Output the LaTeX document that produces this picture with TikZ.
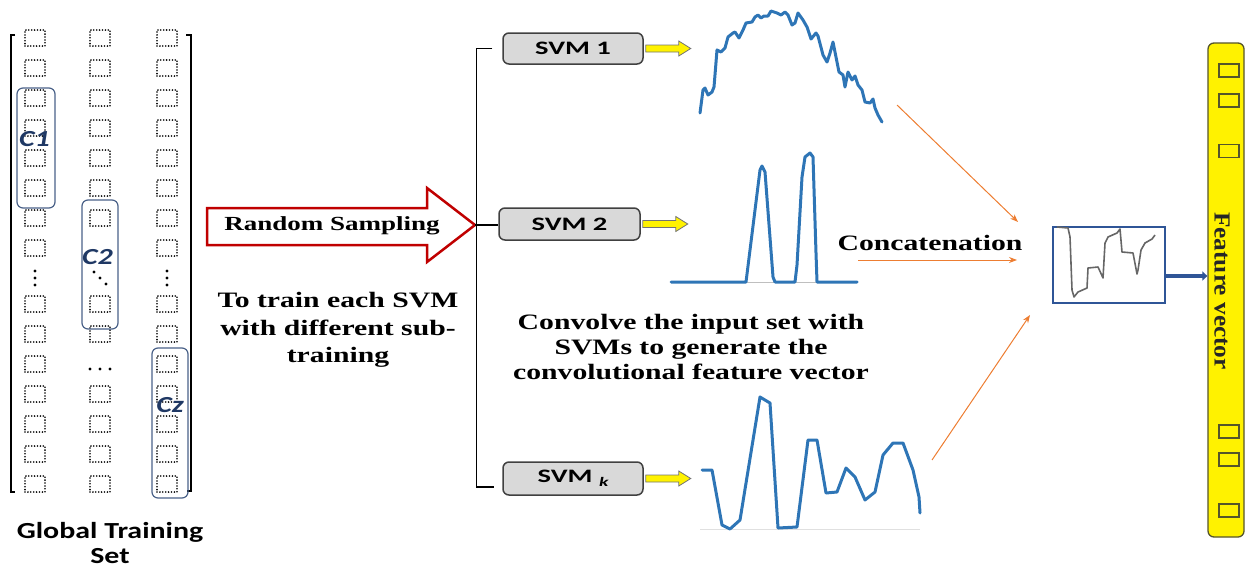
\documentclass[tikz,border=0pt]{standalone}
\usepackage{fontspec}
\setmainfont{Liberation Serif}[FakeStretch=1.35]
\newfontfamily\fvfont{Liberation Serif}[FakeStretch=1.1]
\newfontfamily\svmfont{Carlito}[FakeStretch=1.5]
\newfontfamily\gtsfont{Carlito}[FakeStretch=1.3]
\usetikzlibrary{arrows.meta,calc}
\definecolor{plotblue}{HTML}{2E75B6}
\definecolor{conc}{HTML}{ED7D31}
\definecolor{rsred}{HTML}{C00000}
\definecolor{clab}{HTML}{1F3864}
\definecolor{cbox}{HTML}{4A6188}
\definecolor{fbblue}{HTML}{2F5597}
\definecolor{barline}{HTML}{55552A}
\definecolor{svmfill}{HTML}{D9D9D9}
\begin{document}
\begin{tikzpicture}[x=1pt,y=-1pt,
  dsq/.style={draw, line width=1.8pt, line cap=round, dash pattern=on 0pt off 2.9pt, minimum width=20pt, minimum height=16pt, inner sep=0pt},
  cgroup/.style={draw=cbox, line width=1.2pt, rounded corners=6pt},
  clabel/.style={text=clab, font=\gtsfont\fontsize{23}{23}\selectfont\bfseries\itshape, inner sep=0pt},
  bracket/.style={line width=2.5pt, line join=miter},
  svmbox/.style={draw=black!75, fill=svmfill, line width=1.5pt, rounded corners=6pt, minimum width=140pt, minimum height=31pt, inner sep=0pt, font=\svmfont\fontsize{19}{19}\selectfont\bfseries},
  serif/.style={font=\fontsize{22}{25}\selectfont\bfseries, align=center, inner sep=0pt},
  plotline/.style={draw=plotblue, line width=3pt, line join=round, line cap=round},
  concarrow/.style={draw=conc, line width=1pt, -{Stealth[length=8pt,width=6pt]}},
  fsq/.style={draw=barline, line width=1.2pt, minimum width=20pt, minimum height=13pt, inner sep=0pt},
  yarr/.pic={\draw[fill=yellow, draw=black!55, line width=0.8pt, line join=miter] (0,-3.5) -- (33,-3.5) -- (33,-7.5) -- (45,0) -- (33,7.5) -- (33,3.5) -- (0,3.5) -- cycle;}
]
\useasboundingbox (0,0) rectangle (1246,568);

% ---------- global training set ----------
\draw[bracket] (15,35) -- (11,35) -- (11,492) -- (15,492);
\draw[bracket] (186,35) -- (191,35) -- (191,491) -- (187,491);

\foreach \r/\y in {1/38,2/68,3/98,4/128,5/158,6/188,7/218,8/248,9/304,10/334,11/364,12/394,13/424,14/454,15/484}{
  \node[dsq] (sa\r) at (35,\y) {};
  \node[dsq] (sc\r) at (167,\y) {};
}
\foreach \r/\y in {1/38,2/68,3/98,4/128,5/158,6/188,7/218,9/304,10/334,12/394,13/424,14/454,15/484}{
  \node[dsq] (sb\r) at (100,\y) {};
}
% dots
\foreach \y in {271,278,285}{
  \fill (35,\y) circle (1.6pt);
  \fill (167,\y) circle (1.6pt);
}
\fill (94,272) circle (1.6pt) (100,278) circle (1.6pt) (106,284) circle (1.6pt);
\fill (90,369) circle (1.6pt) (100,369) circle (1.6pt) (110,369) circle (1.6pt);

\draw[cgroup] (17,88) rectangle (55,208);
\draw[cgroup] (82,200) rectangle (118,329);
\draw[cgroup] (152,348) rectangle (188,498);
\node[clabel] (c1) at (34.5,139) {C1};
\node[clabel] (c2) at (97.5,257) {C2};
\node[clabel] (cz) at (170,405) {Cz};

\node[font=\gtsfont\fontsize{23}{25}\selectfont\bfseries, align=center, inner sep=0pt] (gts) at (110,543) {Global Training\\Set};

% ---------- random sampling ----------
\draw[rsred, line width=2.5pt, fill=white, line join=miter] (207,208) -- (427,208) -- (427,188) -- (475,225) -- (427,262) -- (427,245) -- (207,245) -- cycle;
\coordinate (rstip) at (475,225);
\node[font=\fontsize{20}{20}\selectfont\bfseries, inner sep=0pt] (rs) at (332,226) {Random Sampling};
\node[serif, font=\fontsize{22}{27.5}\selectfont\bfseries] (train) at (338,330) {To train each SVM\\with different sub-\\training};

% ---------- SVMs ----------
\node[svmbox] (svm1) at (573,48.5) {SVM 1};
\node[svmbox, minimum width=141pt, minimum height=32pt] (svm2) at (569.5,224) {SVM 2};
\node[svmbox, minimum height=33pt] (svmk) at (573,478.5) {SVM \raisebox{-4pt}{\fontsize{13}{13}\selectfont\itshape k}};

\draw[line width=1.3pt] ([xshift=-10pt]svm1.west) -- ++(-16,0) |- ([xshift=-8pt,yshift=-8.5pt]svmk.west);
\draw[line width=1.3pt] (rstip) -- (rstip -| svm2.west);

\pic at ([xshift=2pt]svm1.east) {yarr};
\pic at ([xshift=2pt]svm2.east) {yarr};
\pic at ([xshift=2pt]svmk.east) {yarr};

% ---------- plots ----------
\draw[plotline] plot coordinates {(700,113)(703,90)(705,88)(708,95)(712,92)(714,87)(717,50)(721,52)(725,48)(728,37)(733,33)(735,32)(739,38)(743,30)(746,23)(752,22)(755,17)(758,15)(761,18)(764,16)(768,16)(771,11)(774,12)(777,13)(781,15)(785,12)(788,15)(792,25)(795,23)(798,13)(803,20)(807,27)(811,39)(816,33)(818,36)(823,55)(827,62)(830,53)(833,42)(836,57)(839,72)(843,75)(845,87)(848,72)(852,80)(855,76)(858,85)(862,90)(865,102)(870,103)(873,99)(875,108)(878,115)(882,122)};

\draw[black!25, line width=1pt] (746,282) -- (817,282);
\draw[plotline] plot coordinates {(671,282)(746,282)(760,170)(762,166)(765,172)(773,277)(775,282)(795,282)(797,265)(802,177)(805,157)(810,153)(813,157)(816,253)(817,282)(857,282)};

\draw[black!12, line width=1pt] (700,529) -- (920,529);
\draw[plotline] plot coordinates {(702,470)(712,470)(722,525)(730,529)(740,520)(760,397)(770,403)(778,528)(797,527)(808,440)(817,440)(826,493)(837,492)(846,468)(855,477)(865,500)(875,492)(883,455)(893,443)(903,443)(913,470)(919,497)(920,513)};

\node[serif] (conv) at (691,347) {Convolve the input set with\\SVMs to generate the\\convolutional feature vector};

% ---------- concatenation ----------
\node[serif] (concat) at (930,243) {Concatenation};
\coordinate (a1s) at (897,105);
\coordinate (a1e) at (1018,222);
\coordinate (a2s) at (858,260);
\coordinate (a2e) at (1017,260);
\coordinate (a3s) at (932,460);
\coordinate (a3e) at (1030,315);
\draw[concarrow] (a1s) -- (a1e);
\draw[concarrow] (a2s) -- (a2e);
\draw[concarrow] (a3s) -- (a3e);

\node[draw=fbblue, line width=1.6pt, minimum width=112pt, minimum height=76pt, inner sep=0pt] (fb) at (1109,265) {};
\draw[black!60, line width=1.6pt, line join=round] plot coordinates {(1057,227)(1068,228)(1070,237)(1072,290)(1074,297)(1078,292)(1087,288)(1088,268)(1098,267)(1103,278)(1105,243)(1108,237)(1117,233)(1120,229)(1122,252)(1133,253)(1137,274)(1138,270)(1141,250)(1145,243)(1152,239)(1155,235)};

% ---------- feature vector ----------
\node[draw=barline, fill=yellow, line width=1.3pt, rounded corners=6pt, minimum width=36pt, minimum height=494pt, inner sep=0pt] (bar) at (1226,290) {};
\foreach \i/\y in {1/70.5,2/100.5,3/151,4/431.5,5/459.5,6/510.5}{
  \node[fsq] (fv\i) at (1229,\y) {};
}
\node[rotate=-90, text=black!85, font=\fvfont\fontsize{23}{23}\selectfont\bfseries, inner sep=0pt] (fvtext) at (1222,291) {Feature vector};

\draw[draw=fbblue, line width=3.5pt, -{Triangle[length=5pt,width=9pt]}] ([yshift=-11pt]fb.east) -- ([yshift=-11pt]fb.east -| bar.west);
\end{tikzpicture}
\end{document}
